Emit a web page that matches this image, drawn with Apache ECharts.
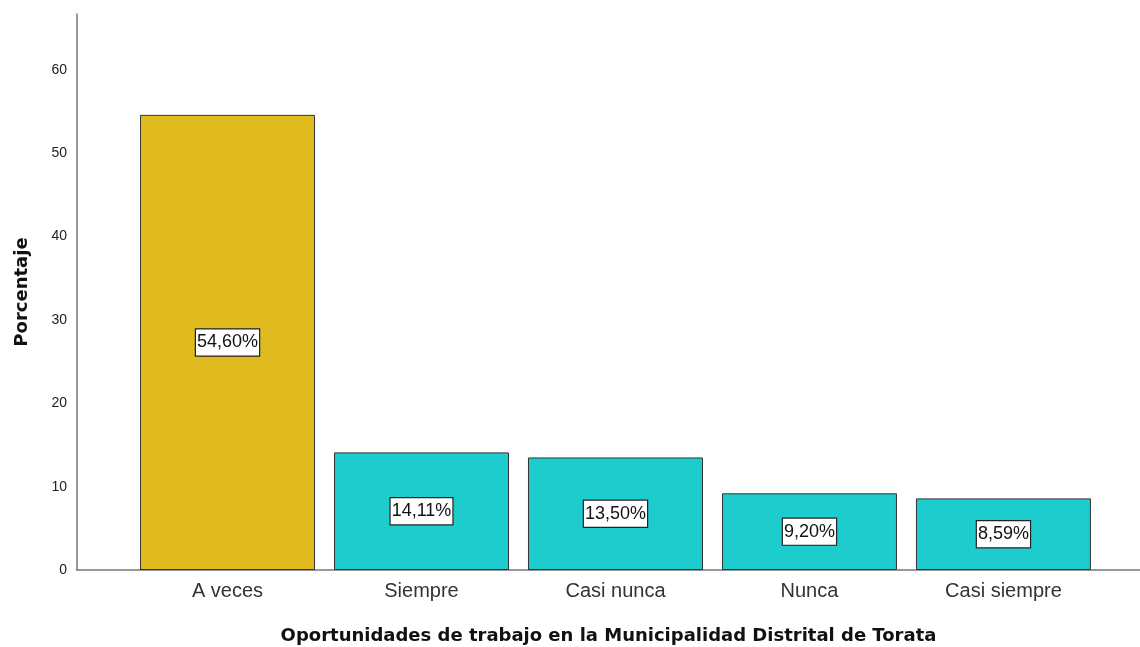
<!DOCTYPE html>
<html>
<head>
<meta charset="utf-8">
<script src="https://cdn.jsdelivr.net/npm/echarts@6/dist/echarts.min.js"></script>
<style>
  html, body { margin: 0; padding: 0; background: #fff; }
  #chart { width: 1140px; height: 647px; }
</style>
</head>
<body>
<div id="chart"></div>
<script>
const categories = ['A veces', 'Siempre', 'Casi nunca', 'Nunca', 'Casi siempre'];
const percentages = [54.60, 14.11, 13.50, 9.20, 8.59];
const barColors = ['#DFBB1F', '#1DCDCD', '#1DCDCD', '#1DCDCD', '#1DCDCD'];
const yTicks = [0, 10, 20, 30, 40, 50, 60];

const chart = echarts.init(document.getElementById('chart'));

chart.setOption({
  animation: false,
  textStyle: { fontFamily: '"Liberation Sans", Arial, sans-serif' },
  grid: { left: 77, right: 0, top: 14, bottom: 77, outerBoundsMode: 'none', containLabel: false },
  xAxis: {
    type: 'value',
    min: -0.776,
    max: 4.704,
    name: 'Oportunidades de trabajo en la Municipalidad Distrital de Torata',
    nameLocation: 'middle',
    nameGap: 57,
    nameTextStyle: { fontSize: 18, fontWeight: 'bold', color: '#111', fontFamily: '"DejaVu Sans", sans-serif' },
    axisLine: { lineStyle: { color: '#777', width: 1.5 } },
    axisTick: { show: false },
    splitLine: { show: false },
    axisLabel: {
      customValues: categories.map((c, i) => i),
      formatter: (v) => categories[Math.round(v)] || '',
      fontSize: 20,
      color: '#333',
      margin: 11,
    },
  },
  yAxis: {
    type: 'value',
    min: 0,
    max: 66.7,
    interval: 10,
    name: 'Porcentaje',
    nameLocation: 'middle',
    nameGap: 46,
    nameTextStyle: { fontSize: 18, fontWeight: 'bold', color: '#111', fontFamily: '"DejaVu Sans", sans-serif' },
    axisLine: { show: true, onZero: false, lineStyle: { color: '#777', width: 1.5 } },
    axisTick: { show: false },
    splitLine: { show: false },
    axisLabel: {
      customValues: yTicks,
      fontSize: 14,
      color: '#222',
      margin: 10,
    },
  },
  series: [
    {
      type: 'bar',
      barWidth: 175,
      data: percentages.map((v, i) => ({
        value: [i, v],
        itemStyle: { color: barColors[i] },
      })),
      itemStyle: { borderColor: '#333', borderWidth: 1 },
      label: {
        show: true,
        position: 'inside',
        formatter: (p) => p.value[1].toFixed(2).replace('.', ',') + '%',
        fontSize: 18,
        color: '#111',
        backgroundColor: '#fff',
        borderColor: '#222',
        borderWidth: 1.2,
        padding: [5, 1, 3, 1],
      },
    },
  ],
});
</script>
</body>
</html>
